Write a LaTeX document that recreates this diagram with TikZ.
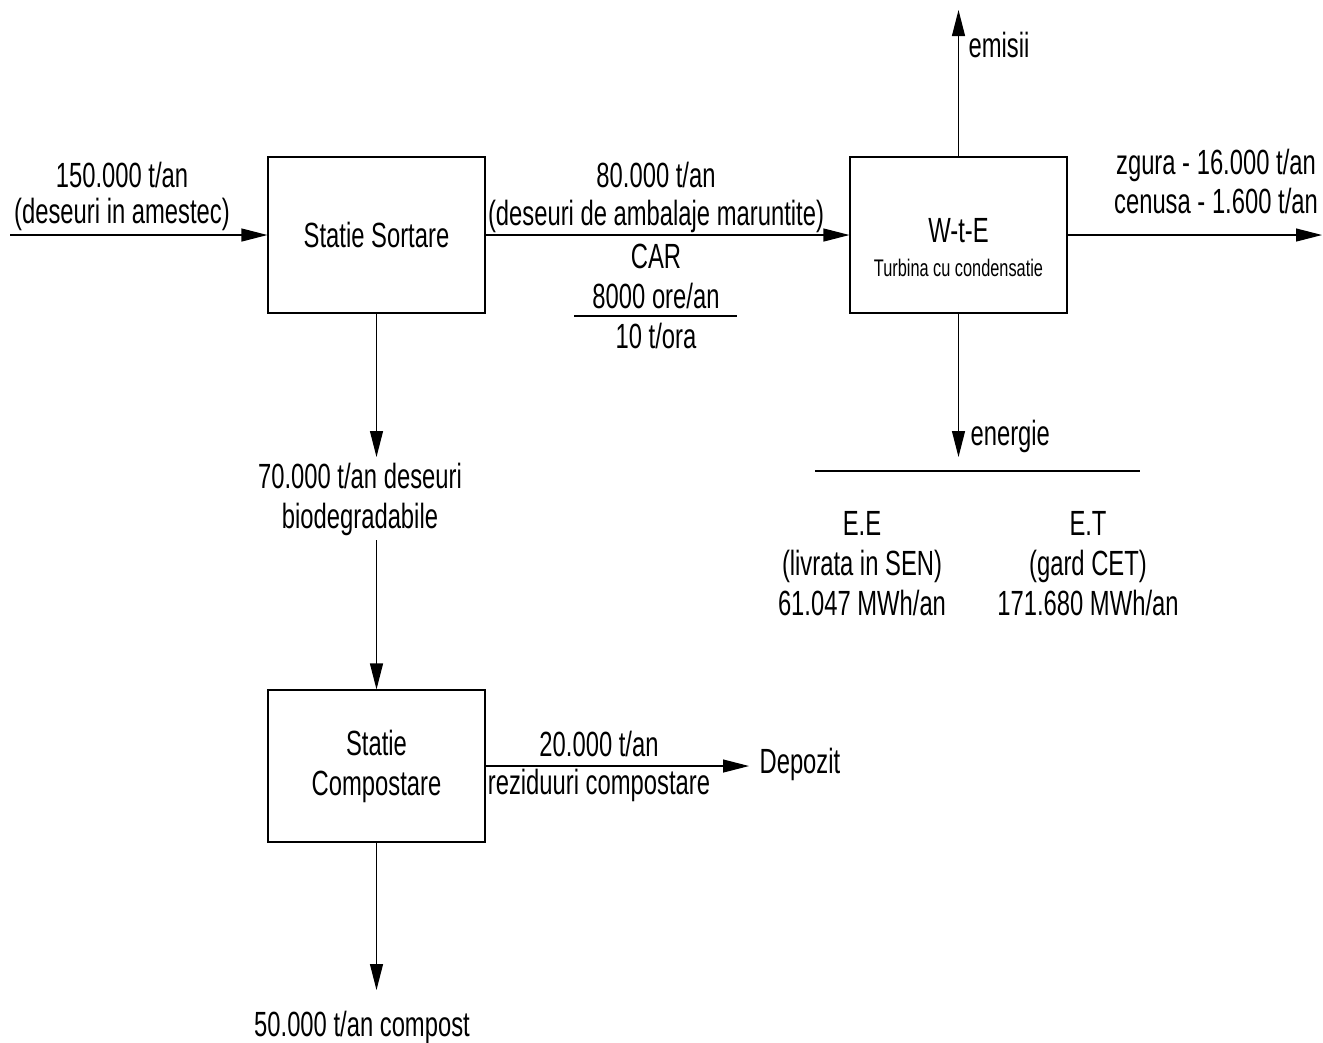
\documentclass[tikz,border=0pt]{standalone}
\usepackage{fontspec}
\setmainfont{Liberation Sans}[FakeStretch=0.68]
\usetikzlibrary{arrows.meta}
\begin{document}
\begin{tikzpicture}[x=0.3pt,y=-0.3pt,line width=0.35pt,
    font=\fontsize{10.5}{12}\selectfont,
    box/.style={draw,minimum width=65.1pt,minimum height=46.8pt,align=center,inner sep=0pt},
    lbl/.style={anchor=base,inner sep=0pt},
    small/.style={font=\fontsize{7.2}{8.6}\selectfont}]
  \useasboundingbox (0,0) rectangle (1323,1042);
  \node[box] (sortare) at (376.5,235) {Statie Sortare};
  \node[box] (wte) at (958.5,235) {};
  \node[box,minimum height=45.6pt] (compost) at (376.5,766) {Statie\\Compostare};
  \path
    (122,187) node[lbl] (in1){150.000 t/an}
    (122,223) node[lbl] (in2){(deseuri in amestec)}
    (656,187) node[lbl] (car1){80.000 t/an}
    (656,225) node[lbl] (car2){(deseuri de ambalaje maruntite)}
    (656,268) node[lbl] (car3){CAR}
    (656,308) node[lbl] (car4){8000 ore/an}
    (656,348) node[lbl] (car5){10 t/ora}
    (958.5,242) node[lbl] (wte1){W-t-E}
    (958.5,276) node[lbl,small] (wte2){Turbina cu condensatie}
    (968,57) node[lbl,anchor=base west] (emisii){emisii}
    (1216,174) node[lbl] (zgura){zgura - 16.000 t/an}
    (1216,213) node[lbl] (cenusa){cenusa - 1.600 t/an}
    (970,445) node[lbl,anchor=base west] (energie){energie}
    (862,535) node[lbl] (ee1){E.E}
    (862,575) node[lbl] (ee2){(livrata in SEN)}
    (862,615) node[lbl] (ee3){61.047 MWh/an}
    (1088,535) node[lbl] (et1){E.T}
    (1088,575) node[lbl] (et2){(gard CET)}
    (1088,615) node[lbl] (et3){171.680 MWh/an}
    (360,488) node[lbl] (bio1){70.000 t/an deseuri}
    (360,528) node[lbl] (bio2){biodegradabile}
    (599,756) node[lbl] (rez1){20.000 t/an}
    (599,794) node[lbl] (rez2){reziduuri compostare}
    (749,773) node[lbl,anchor=base west,inner sep=3pt] (depozit){Depozit}
    (362,1036) node[lbl] (compostout){50.000 t/an compost};
  \coordinate (in) at (10,235);
  \coordinate (emisiiend) at (958.5,10);
  \coordinate (zguraend) at (1322,235);
  \coordinate (energieend) at (958.5,457);
  \coordinate (bioend) at (376.5,457);
  \coordinate (biostart) at (376.5,540);
  \coordinate (compostend) at (376.5,990);
  \coordinate (carl) at (574,316);
  \coordinate (carr) at (737,316);
  \coordinate (enl) at (815,471);
  \coordinate (enr) at (1140,471);
  \begin{scope}[-{Triangle[length=7.8pt,width=3.9pt]}]
    \draw (in) to (sortare);
    \draw (sortare) to (wte);
    \draw (wte) to (emisiiend);
    \draw (wte) to (zguraend);
    \draw (wte) to (energieend);
    \draw (sortare) to (bioend);
    \draw (biostart) to (compost);
    \draw (compost) to (compostend);
    \draw (compost) to (compost -| depozit.west);
  \end{scope}
  \draw (carl) to (carr);
  \draw (enl) to (enr);
\end{tikzpicture}
\end{document}
